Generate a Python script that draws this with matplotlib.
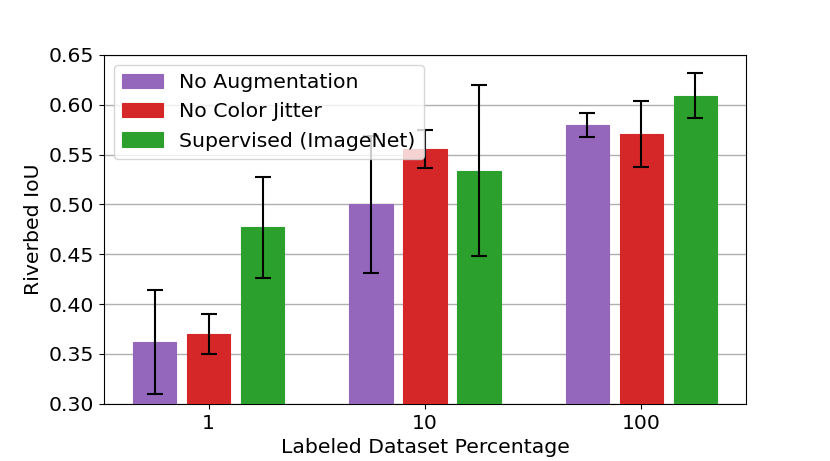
import matplotlib
matplotlib.use('Agg')
import matplotlib.pyplot as plt
import numpy as np

groups = ['1', '10', '100']
labels = ['No Augmentation', 'No Color Jitter', 'Supervised (ImageNet)']
colors = ['#9467bd', '#d62728', '#2ca02c']

no_aug = [0.362, 0.500, 0.580]
no_aug_err = [0.052, 0.069, 0.012]
no_jitter = [0.370, 0.556, 0.571]
no_jitter_err = [0.020, 0.019, 0.033]
supervised = [0.477, 0.534, 0.609]
supervised_err = [0.051, 0.086, 0.0225]

means = [no_aug, no_jitter, supervised]
errs = [no_aug_err, no_jitter_err, supervised_err]

plt.rcParams['font.size'] = 14.7

fig = plt.figure(figsize=(8.3, 4.61), dpi=100)
ax = fig.add_axes([0.125, 0.124, 0.774, 0.757])

x = np.arange(len(groups))
width = 0.2
for i in range(3):
    ax.bar(x + (i - 1) * 0.25, means[i], width, yerr=errs[i], color=colors[i],
           edgecolor=colors[i], linewidth=0.8, capsize=6,
           error_kw=dict(elinewidth=1.5, capthick=1.5, ecolor='black'),
           label=labels[i], zorder=3)

ax.set_ylim(0.30, 0.65)
ax.set_xticks(x)
ax.set_xticklabels(groups)
ax.set_xlabel('Labeled Dataset Percentage')
ax.set_ylabel('Riverbed IoU')
ax.yaxis.grid(True, color='#b0b0b0', linewidth=1, zorder=0)
ax.set_axisbelow(True)
ax.legend(loc='upper left', fontsize=14.7)

plt.savefig('out.png', dpi=100)
